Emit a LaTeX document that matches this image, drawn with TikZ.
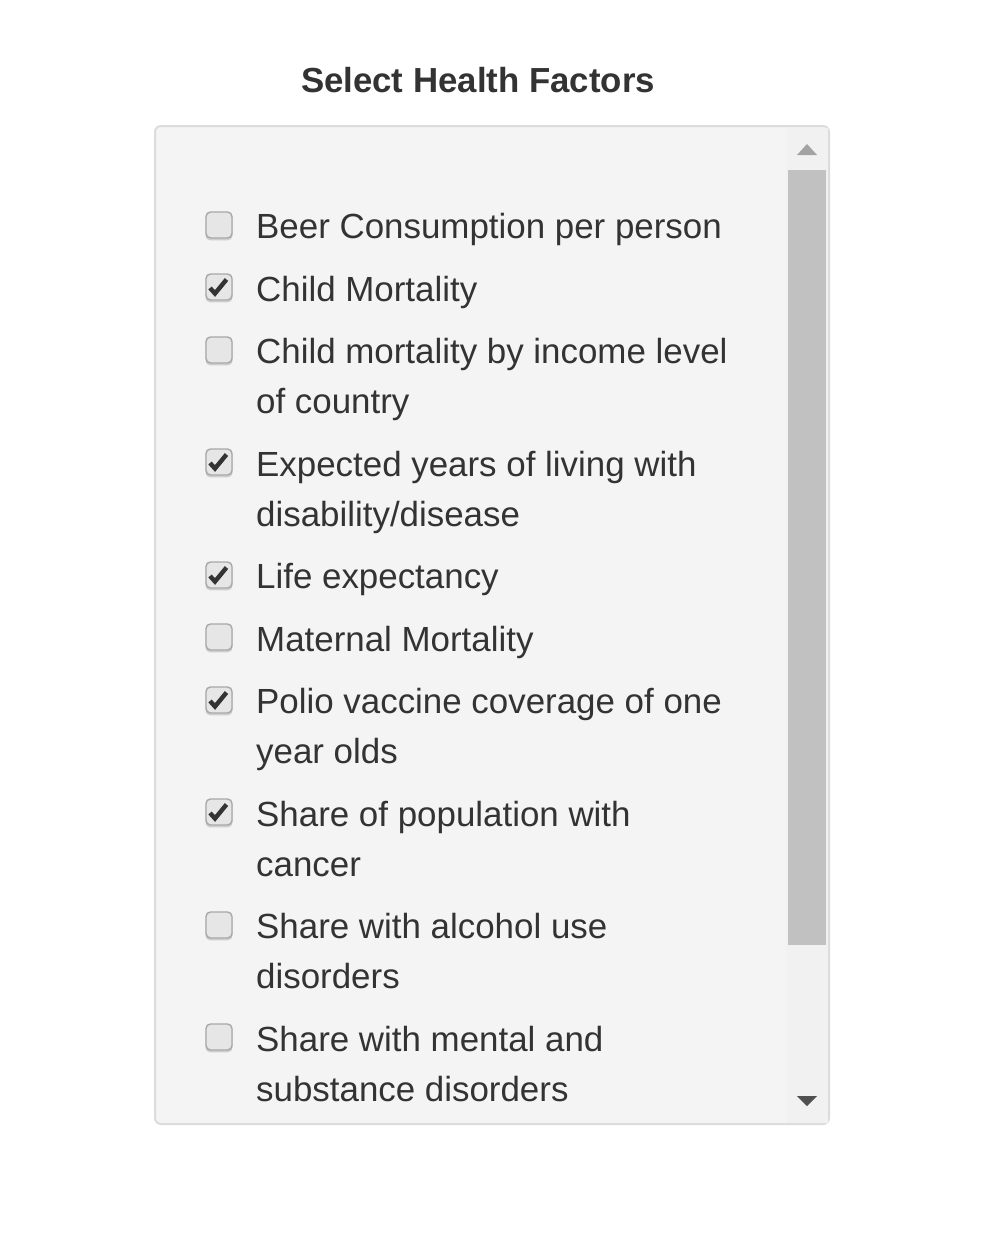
\documentclass[tikz,border=0pt]{standalone}
\usepackage{fontspec}
\setmainfont{Liberation Sans}
\usetikzlibrary{calc}
\definecolor{txt}{HTML}{333333}
\definecolor{panelbg}{HTML}{F4F4F4}
\definecolor{panelline}{HTML}{DCDCDC}
\definecolor{trackbg}{HTML}{F1F1F1}
\definecolor{thumbc}{HTML}{C1C1C1}
\definecolor{uparrow}{HTML}{A3A3A3}
\definecolor{downarrow}{HTML}{505050}
\definecolor{cbfill}{HTML}{E6E6E6}
\definecolor{cbline}{HTML}{A8A8A8}
\definecolor{cbshadow}{HTML}{CFCFCF}
\begin{document}
\begin{tikzpicture}[x=1pt,y=-1pt,
  itemtext/.style={anchor=base west,inner sep=0pt,text=txt,font=\fontsize{34.9}{50}\selectfont},
  cbox/.style={draw=cbline,line width=1.4pt,fill=cbfill,rounded corners=4.5pt,minimum size=26pt,inner sep=0pt},
  cbshade/.style={fill=cbshadow,rounded corners=4.5pt,minimum size=27pt,inner sep=0pt},
  tick/.style={draw=txt,line width=4.4pt,line cap=butt,line join=miter}
]
\useasboundingbox (0,0) rectangle (1008,1251);
\fill[white] (0,0) rectangle (1008,1251);
% title
\node[anchor=base,inner sep=0pt,text=txt,font=\fontsize{34.8}{40}\selectfont\bfseries] (title) at (478,92) {Select Health Factors};
% panel
\draw[fill=panelbg,draw=panelline,line width=2pt,rounded corners=6pt] (155,126) rectangle (829,1124);
% scrollbar
\fill[trackbg] (786,127.5) rectangle (827.5,1122.5);
\fill[thumbc] (788,170) rectangle (826,945);
\fill[uparrow] (797,155) -- (817,155) -- (807,144) -- cycle;
\fill[downarrow] (797,1096) -- (817,1096) -- (807,1106) -- cycle;
% checkboxes
\foreach \n/\y in {1/225,2/287,3/350,4/462,5/575,6/637,7/700,8/812,9/925,10/1037}{
  \node[cbshade] at (219,\y+1.8) {};
  \node[cbox] (cb\n) at (219,\y) {};
}
\foreach \n in {2,4,5,7,8}{
  \draw[tick] ($(cb\n.center)+(-9,1)$) -- ($(cb\n.center)+(-4,6.5)$) -- ($(cb\n.center)+(7.5,-7.5)$);
}
% labels
\node[itemtext] (l1) at (256,238.5) {Beer Consumption per person};
\node[itemtext] (l2) at (256,301) {Child Mortality};
\node[itemtext] (l3) at (256,363.5) {Child mortality by income level};
\node[itemtext] (l3b) at (256,413.5) {of country};
\node[itemtext] (l4) at (256,476) {Expected years of living with};
\node[itemtext] (l4b) at (256,526) {disability/disease};
\node[itemtext] (l5) at (256,588.5) {Life expectancy};
\node[itemtext] (l6) at (256,651) {Maternal Mortality};
\node[itemtext] (l7) at (256,713.5) {Polio vaccine coverage of one};
\node[itemtext] (l7b) at (256,763.5) {year olds};
\node[itemtext] (l8) at (256,826) {Share of population with};
\node[itemtext] (l8b) at (256,876) {cancer};
\node[itemtext] (l9) at (256,938.5) {Share with alcohol use};
\node[itemtext] (l9b) at (256,988.5) {disorders};
\node[itemtext] (l10) at (256,1051) {Share with mental and};
\node[itemtext] (l10b) at (256,1101) {substance disorders};
\end{tikzpicture}
\end{document}
